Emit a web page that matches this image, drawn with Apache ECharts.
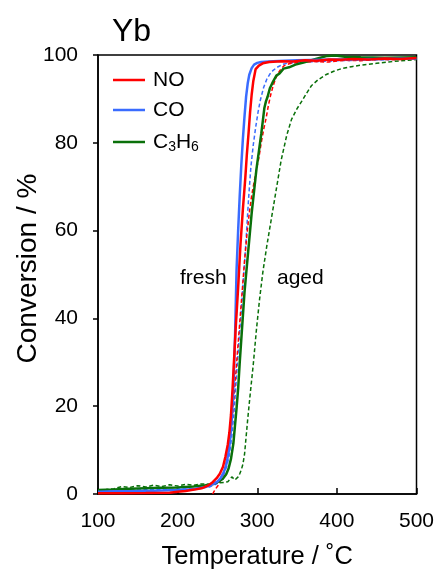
<!DOCTYPE html>
<html>
<head>
<meta charset="utf-8">
<script src="https://cdn.jsdelivr.net/npm/echarts@6/dist/echarts.min.js"></script>
<style>
html,body{margin:0;padding:0;background:#fff;}
#chart{width:442px;height:572px;}
</style>
</head>
<body>
<div id="chart"></div>
<script>
// ---- data (temperature in °C, conversion in %) ----
const xTicks = [100, 200, 300, 400, 500];
const yTicks = [0, 20, 40, 60, 80, 100];

// fresh catalyst
const noFreshT = [100,130,160,190,200,210,221,230,238,244,249,253,257,260,263,265,267,269,271,273,276,279,282,285,287,289,291,293,295,298,302,307,315,330,345,360,375,390,405,420,440,460,480,500];
const noFreshC = [0.15,0.15,0.2,0.3,0.5,0.7,1.0,1.3,1.9,2.7,3.6,4.6,6.2,8.5,11.3,14,18,24,31,38,47,57,65,72,77.5,82,87,91,94,96.8,97.6,98.1,98.4,98.6,98.5,98.8,98.7,99.0,98.9,99.1,99.0,99.2,99.1,99.3];

const coFreshT = [100,120,140,160,180,200,220,235,245,250,254,258,261,264,266,268,270,272,274,276,278,280,282,284,286,288,290,293,296,300,305,320,350,400,450,500];
const coFreshC = [0.5,0.6,0.6,0.7,0.8,0.9,1.1,1.6,2.3,2.8,3.6,5.0,6.6,9.5,12.5,17,24,35,51,60,68,75,81,86,90.5,93.5,95.5,97.0,97.8,98.2,98.4,98.6,98.8,99.0,99.1,99.2];

const hcFreshT = [100,120,140,160,180,200,220,235,245,252,257,261,264,267,270,272,274,276,278,281,284,287,290,293,296,299,302,305,307,309,311,313,316,320,324,328,333,340,348,358,368,378,388,398,410,430,460,500];
const hcFreshC = [0.9,1.0,1.2,1.3,1.4,1.5,1.7,2.0,2.3,2.9,3.5,4.5,5.8,8.0,11.5,15.5,19.5,24,30,38,46,52,58,64,69,74,78,82,85,88,89.5,90.5,92.5,94,95.3,95.8,96.9,97.2,97.8,98.3,98.8,99.3,99.8,99.9,99.6,99.5,99.4,99.5];

// aged catalyst
const noAgedT = [244,247,251,256,260,263,266,269,272,275,278,281,284,287,290,293,296,299,302,305,308,311,314,317,320,323,326,330,334,340,350,370,390,410,430,450,470,490,500];
const noAgedC = [0,1,2,3.9,6,9,13,18,25,32,39,46,53,59,64,68,71,74,76.5,80,83,85.5,88.5,91,93,94.6,95.8,96.9,97.6,98.0,98.3,98.5,98.4,98.8,98.7,99.0,98.9,99.1,99.2];

const coAgedT = [100,140,180,220,240,248,254,258,262,265,268,271,274,277,280,283,286,289,292,295,298,301,304,308,312,316,320,325,332,340,360,400,450,500];
const coAgedC = [0.8,0.9,1.0,1.2,1.6,2.2,3.2,4.5,6.5,9,13,19,27,35,42,50,58,67,74.5,79.5,83.5,87,89.8,92.6,94.5,95.7,96.5,97.2,97.9,98.2,98.4,98.7,98.9,99.1];

const hcAgedT = [100,110,120,130,140,150,160,170,180,190,200,210,220,230,240,250,258,263,266,268,270,272,274,276,278,280,282,284,286,288,291,295,299,303,307,312,318,324,330,337,343,350,356,362,368,376,386,396,406,420,435,450,465,480,490,500];
const hcAgedC = [0.9,1.0,1.2,1.7,1.5,1.9,1.6,2.0,1.7,2.1,1.8,2.2,2.0,2.3,2.2,2.5,2.6,2.8,3.4,3.9,3.6,3.2,3.4,3.9,4.6,5.5,6.8,9,13,17,22.5,29.5,37.5,44.5,50.5,56.5,63,69.5,76,81.7,85.3,87.8,89.5,91.3,93,94.3,95.5,96.3,96.9,97.4,97.8,98.1,98.4,98.7,98.8,99.0];

const legendNames = ['NO', 'CO', 'C3H6'];

// ---- styling ----
const RED = '#ff0000', BLUE = '#3a6cff', GREEN = '#0a700a';
const FONT = '"Liberation Sans", Arial, sans-serif';
const pairs = (t, c) => t.map((x, i) => [x, c[i]]);

function line(name, t, c, color, dashed) {
  return {
    name: name,
    type: 'line',
    data: pairs(t, c),
    showSymbol: false,
    symbol: 'none',
    smooth: false,
    color: color,
    lineStyle: dashed ? {width: 1.5, color: color, type: [4, 2.5]} : {width: 2.5, color: color},
    itemStyle: {color: color},
    silent: true,
    animation: false
  };
}

function legendAt(name, cy) {
  return {
    data: [name],
    left: 113,
    top: cy - 12,
    padding: 0,
    icon: 'rect',
    itemWidth: 32,
    itemHeight: 2.5,
    selectedMode: false,
    formatter: n => n === 'C3H6' ? '{b|C}{s|3}{b|H}{s|6}' : n,
    textStyle: {
      fontSize: 21, fontFamily: FONT, color: '#000', lineHeight: 24, padding: [0, 0, 0, 3],
      rich: {
        b: {fontSize: 21, fontFamily: FONT, color: '#000', lineHeight: 24},
        s: {fontSize: 14, fontFamily: FONT, color: '#000', lineHeight: 14, padding: [10, 0, 0, 0]}
      }
    }
  };
}

const chart = echarts.init(document.getElementById('chart'), null, {renderer: 'canvas'});
chart.setOption({
  animation: false,
  backgroundColor: '#fff',
  title: {
    text: 'Yb', left: 107, top: 11,
    textStyle: {fontSize: 32, fontWeight: 'normal', fontFamily: FONT, color: '#000'}
  },
  legend: [legendAt('NO', 80), legendAt('CO', 110), legendAt('C3H6', 142)],
  grid: {left: 98, right: 25.5, top: 55, bottom: 78, containLabel: false, outerBoundsMode: 'none',
         show: true, borderColor: '#000', borderWidth: 1.5, backgroundColor: 'transparent'},
  xAxis: {
    type: 'value', min: xTicks[0], max: xTicks[xTicks.length - 1], interval: 100,
    name: 'Temperature / ˚C', nameLocation: 'middle', nameGap: 50, nameMoveOverlap: false,
    nameTextStyle: {fontSize: 25.5, fontFamily: FONT, color: '#000'},
    axisLine: {show: true, lineStyle: {color: '#000', width: 1.5}},
    axisTick: {show: true, inside: true, length: 6, lineStyle: {color: '#000', width: 1.5}},
    axisLabel: {fontSize: 21, fontFamily: FONT, color: '#000', margin: 17},
    splitLine: {show: false}
  },
  yAxis: {
    type: 'value', min: yTicks[0], max: yTicks[yTicks.length - 1], interval: 20,
    name: 'Conversion / %', nameLocation: 'middle', nameGap: 56, nameMoveOverlap: false,
    nameTextStyle: {fontSize: 28, fontFamily: FONT, color: '#000', padding: [0, 0, 0, 12]},
    axisLine: {show: true, lineStyle: {color: '#000', width: 1.5}},
    axisTick: {show: true, inside: false, length: 5, lineStyle: {color: '#000', width: 1.5}},
    axisLabel: {fontSize: 21, fontFamily: FONT, color: '#000', margin: 20},
    splitLine: {show: false}
  },
  graphic: [
    {type: 'text', x: 180, y: 278, silent: true, style: {text: 'fresh', font: '21px ' + FONT, fill: '#000', verticalAlign: 'middle'}},
    {type: 'text', x: 277, y: 278, silent: true, style: {text: 'aged', font: '21px ' + FONT, fill: '#000', verticalAlign: 'middle'}}
  ],
  series: [
    line('CO aged', coAgedT, coAgedC, BLUE, true),
    line('NO aged', noAgedT, noAgedC, RED, true),
    line('C3H6 aged', hcAgedT, hcAgedC, GREEN, true),
    line('C3H6', hcFreshT, hcFreshC, GREEN, false),
    line('CO', coFreshT, coFreshC, BLUE, false),
    line('NO', noFreshT, noFreshC, RED, false)
  ]
});
</script>
</body>
</html>
